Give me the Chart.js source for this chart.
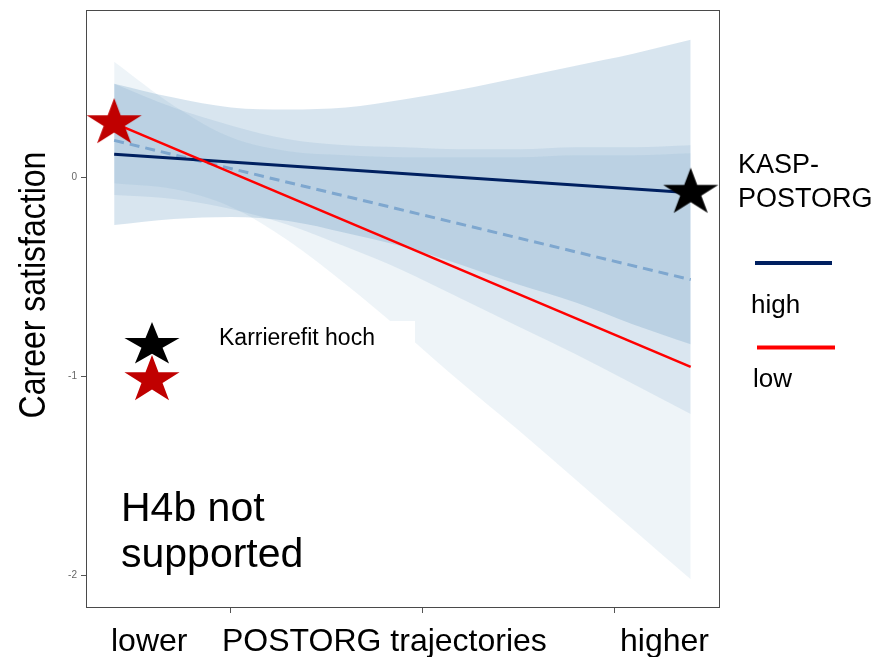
<!DOCTYPE html>
<html>
<head>
<meta charset="utf-8">
<script src="https://cdn.jsdelivr.net/npm/chart.js@4"></script>
<style>
  html, body { margin: 0; padding: 0; background: #ffffff; }
  #wrap { width: 895px; height: 657px; position: relative; }
</style>
</head>
<body>
<div id="wrap"><canvas id="chart" width="895" height="657"></canvas></div>
<script>
// POSTORG values at which the confidence bands are evaluated
const postorg = [1.39, 1.7, 2.0, 2.3, 2.6, 2.9, 3.2, 3.5, 3.8, 4.1, 4.4];
// ends of the fitted simple slopes
const slopeEnds = [1.39, 4.4];

// predicted career satisfaction, KASP-POSTORG high / low, and the average slope
const highFit = [0.115, -0.078];
const lowFit = [0.272, -0.953];
const meanFit = [0.185, -0.515];

// confidence bands
const highUpper = [0.47, 0.40, 0.35, 0.34, 0.35, 0.39, 0.44, 0.50, 0.56, 0.62, 0.69];
const highLower = [-0.24, -0.21, -0.20, -0.22, -0.28, -0.35, -0.44, -0.54, -0.63, -0.74, -0.84];
const meanUpper = [0.47, 0.35, 0.26, 0.19, 0.16, 0.15, 0.14, 0.14, 0.15, 0.15, 0.16];
const meanLower = [-0.09, -0.11, -0.16, -0.24, -0.35, -0.47, -0.61, -0.75, -0.89, -1.04, -1.19];
const lowUpper = [0.58, 0.36, 0.20, 0.13, 0.11, 0.10, 0.10, 0.10, 0.11, 0.11, 0.12];
const lowLower = [-0.03, -0.06, -0.15, -0.32, -0.54, -0.78, -1.03, -1.27, -1.52, -1.77, -2.02];

const yTicks = [-2, -1, 0];
const xTicks = [2, 3, 4];

const FONT = '"Liberation Sans", Arial, Helvetica, sans-serif';
const NAVY = '#002060';
const RED = '#ff0000';
const STAR_RED = '#c00000';
const DASH_BLUE = '#7ea7cf';

function pairs(xs, ys) {
  return xs.map((x, i) => ({ x: x, y: ys[i] }));
}

// five-pointed star path, rx/ry are the outer radii
function starPath(ctx, cx, cy, rx, ry) {
  ctx.beginPath();
  for (let i = 0; i < 10; i++) {
    const a = -Math.PI / 2 + i * Math.PI / 5;
    const k = i % 2 === 0 ? 1 : 0.382;
    const px = cx + Math.cos(a) * rx * k;
    const py = cy + Math.sin(a) * ry * k;
    if (i === 0) ctx.moveTo(px, py); else ctx.lineTo(px, py);
  }
  ctx.closePath();
}

function starImage(color, rx, ry) {
  const c = document.createElement('canvas');
  c.width = Math.ceil(2 * rx * 0.951) + 2;
  c.height = Math.ceil(2 * ry) + 2;
  const g = c.getContext('2d');
  g.fillStyle = color;
  starPath(g, c.width / 2, c.height / 2, rx, ry);
  g.fill();
  return c;
}

const STAR_RX = 29, STAR_RY = 25;
const redStar = starImage(STAR_RED, STAR_RX, STAR_RY);
const blackStar = starImage('#000000', STAR_RX, STAR_RY);

function band(upper, lower, alpha, name) {
  const fillColor = 'rgba(70,130,180,' + alpha + ')';
  return [
    {
      label: name + ' upper',
      data: pairs(postorg, upper),
      borderWidth: 0,
      borderColor: 'rgba(0,0,0,0)',
      backgroundColor: fillColor,
      pointRadius: 0,
      cubicInterpolationMode: 'monotone',
      fill: '+1'
    },
    {
      label: name + ' lower',
      data: pairs(postorg, lower),
      borderWidth: 0,
      borderColor: 'rgba(0,0,0,0)',
      pointRadius: 0,
      cubicInterpolationMode: 'monotone',
      fill: false
    }
  ];
}

const datasets = [
  {
    label: 'low',
    data: pairs(slopeEnds, lowFit),
    borderColor: RED,
    borderWidth: 2.5,
    pointStyle: [redStar, 'circle'],
    pointRadius: [1, 0],
    tension: 0,
    fill: false
  },
  {
    label: 'high',
    data: pairs(slopeEnds, highFit),
    borderColor: NAVY,
    borderWidth: 3,
    pointStyle: ['circle', blackStar],
    pointRadius: [0, 1],
    tension: 0,
    fill: false
  },
  {
    label: 'average',
    data: pairs(slopeEnds, meanFit),
    borderColor: DASH_BLUE,
    borderWidth: 3,
    borderDash: [10, 6],
    pointRadius: 0,
    tension: 0,
    fill: false
  },
  ...band(highUpper, highLower, 0.21, 'high'),
  ...band(meanUpper, meanLower, 0.12, 'average'),
  ...band(lowUpper, lowLower, 0.09, 'low')
];

function text(ctx, str, x, y, size, color) {
  ctx.font = size + 'px ' + FONT;
  ctx.fillStyle = color || '#000000';
  ctx.textAlign = 'left';
  ctx.textBaseline = 'alphabetic';
  ctx.fillText(str, x, y);
}

const decorations = {
  id: 'decorations',
  afterDatasetsDraw(chart) {
    const ctx = chart.ctx;
    ctx.save();
    // label box for the star key
    ctx.fillStyle = '#ffffff';
    ctx.fillRect(200, 321, 215, 27);
    text(ctx, 'Karrierefit hoch', 219, 345, 23);
    ctx.fillStyle = '#000000';
    starPath(ctx, 152, 345, STAR_RX, STAR_RY - 2);
    ctx.fill();
    ctx.fillStyle = STAR_RED;
    starPath(ctx, 152, 380, STAR_RX, STAR_RY);
    ctx.fill();
    text(ctx, 'H4b not', 121, 521, 41);
    text(ctx, 'supported', 121, 567, 41);
    ctx.restore();
  },
  afterDraw(chart) {
    const ctx = chart.ctx;
    const a = chart.chartArea;
    ctx.save();
    // panel frame
    ctx.strokeStyle = '#4a4a4a';
    ctx.lineWidth = 1;
    ctx.strokeRect(Math.round(a.left) + 0.5, Math.round(a.top) + 0.5,
                   Math.round(a.right - a.left) - 1, Math.round(a.bottom - a.top) - 1);

    // y-axis title
    ctx.save();
    ctx.translate(45, 285);
    ctx.scale(1.16, 1);
    ctx.rotate(-Math.PI / 2);
    ctx.font = '32px ' + FONT;
    ctx.fillStyle = '#000000';
    ctx.textAlign = 'center';
    ctx.textBaseline = 'alphabetic';
    ctx.fillText('Career satisfaction', 0, 0);
    ctx.restore();

    // x-axis wording
    text(ctx, 'lower', 111, 651, 32);
    text(ctx, 'POSTORG trajectories', 222, 651, 32);
    text(ctx, 'higher', 620, 651, 32);

    // moderator key
    text(ctx, 'KASP-', 738, 173, 27);
    text(ctx, 'POSTORG', 738, 207, 27);
    ctx.lineCap = 'butt';
    ctx.strokeStyle = NAVY;
    ctx.lineWidth = 4;
    ctx.beginPath(); ctx.moveTo(755, 263); ctx.lineTo(832, 263); ctx.stroke();
    text(ctx, 'high', 751, 313, 26);
    ctx.strokeStyle = RED;
    ctx.beginPath(); ctx.moveTo(757, 347.5); ctx.lineTo(835, 347.5); ctx.stroke();
    text(ctx, 'low', 753, 387, 26);
    ctx.restore();
  }
};

new Chart(document.getElementById('chart'), {
  type: 'line',
  data: { datasets: datasets },
  options: {
    responsive: false,
    animation: false,
    events: [],
    layout: { padding: { top: 7, right: 175, left: 0, bottom: 0 } },
    plugins: {
      legend: { display: false },
      tooltip: { enabled: false },
      filler: { propagate: false }
    },
    scales: {
      x: {
        type: 'linear',
        min: 1.243,
        max: 4.553,
        afterBuildTicks: s => { s.ticks = xTicks.map(v => ({ value: v })); },
        afterFit: s => { s.height = 49; },
        ticks: { display: false },
        border: { display: false },
        grid: { display: true, drawOnChartArea: false, drawTicks: true, tickLength: 5, color: '#555555', tickColor: '#555555' }
      },
      y: {
        type: 'linear',
        min: -2.165,
        max: 0.84,
        afterBuildTicks: s => { s.ticks = yTicks.map(v => ({ value: v })); },
        afterFit: s => { s.width = 86; },
        ticks: {
          padding: 4,
          color: '#666666',
          font: { family: FONT, size: 10 },
          callback: v => String(v)
        },
        border: { display: false },
        grid: { display: true, drawOnChartArea: false, drawTicks: true, tickLength: 5, color: '#555555', tickColor: '#555555' }
      }
    }
  },
  plugins: [decorations]
});
</script>
</body>
</html>
